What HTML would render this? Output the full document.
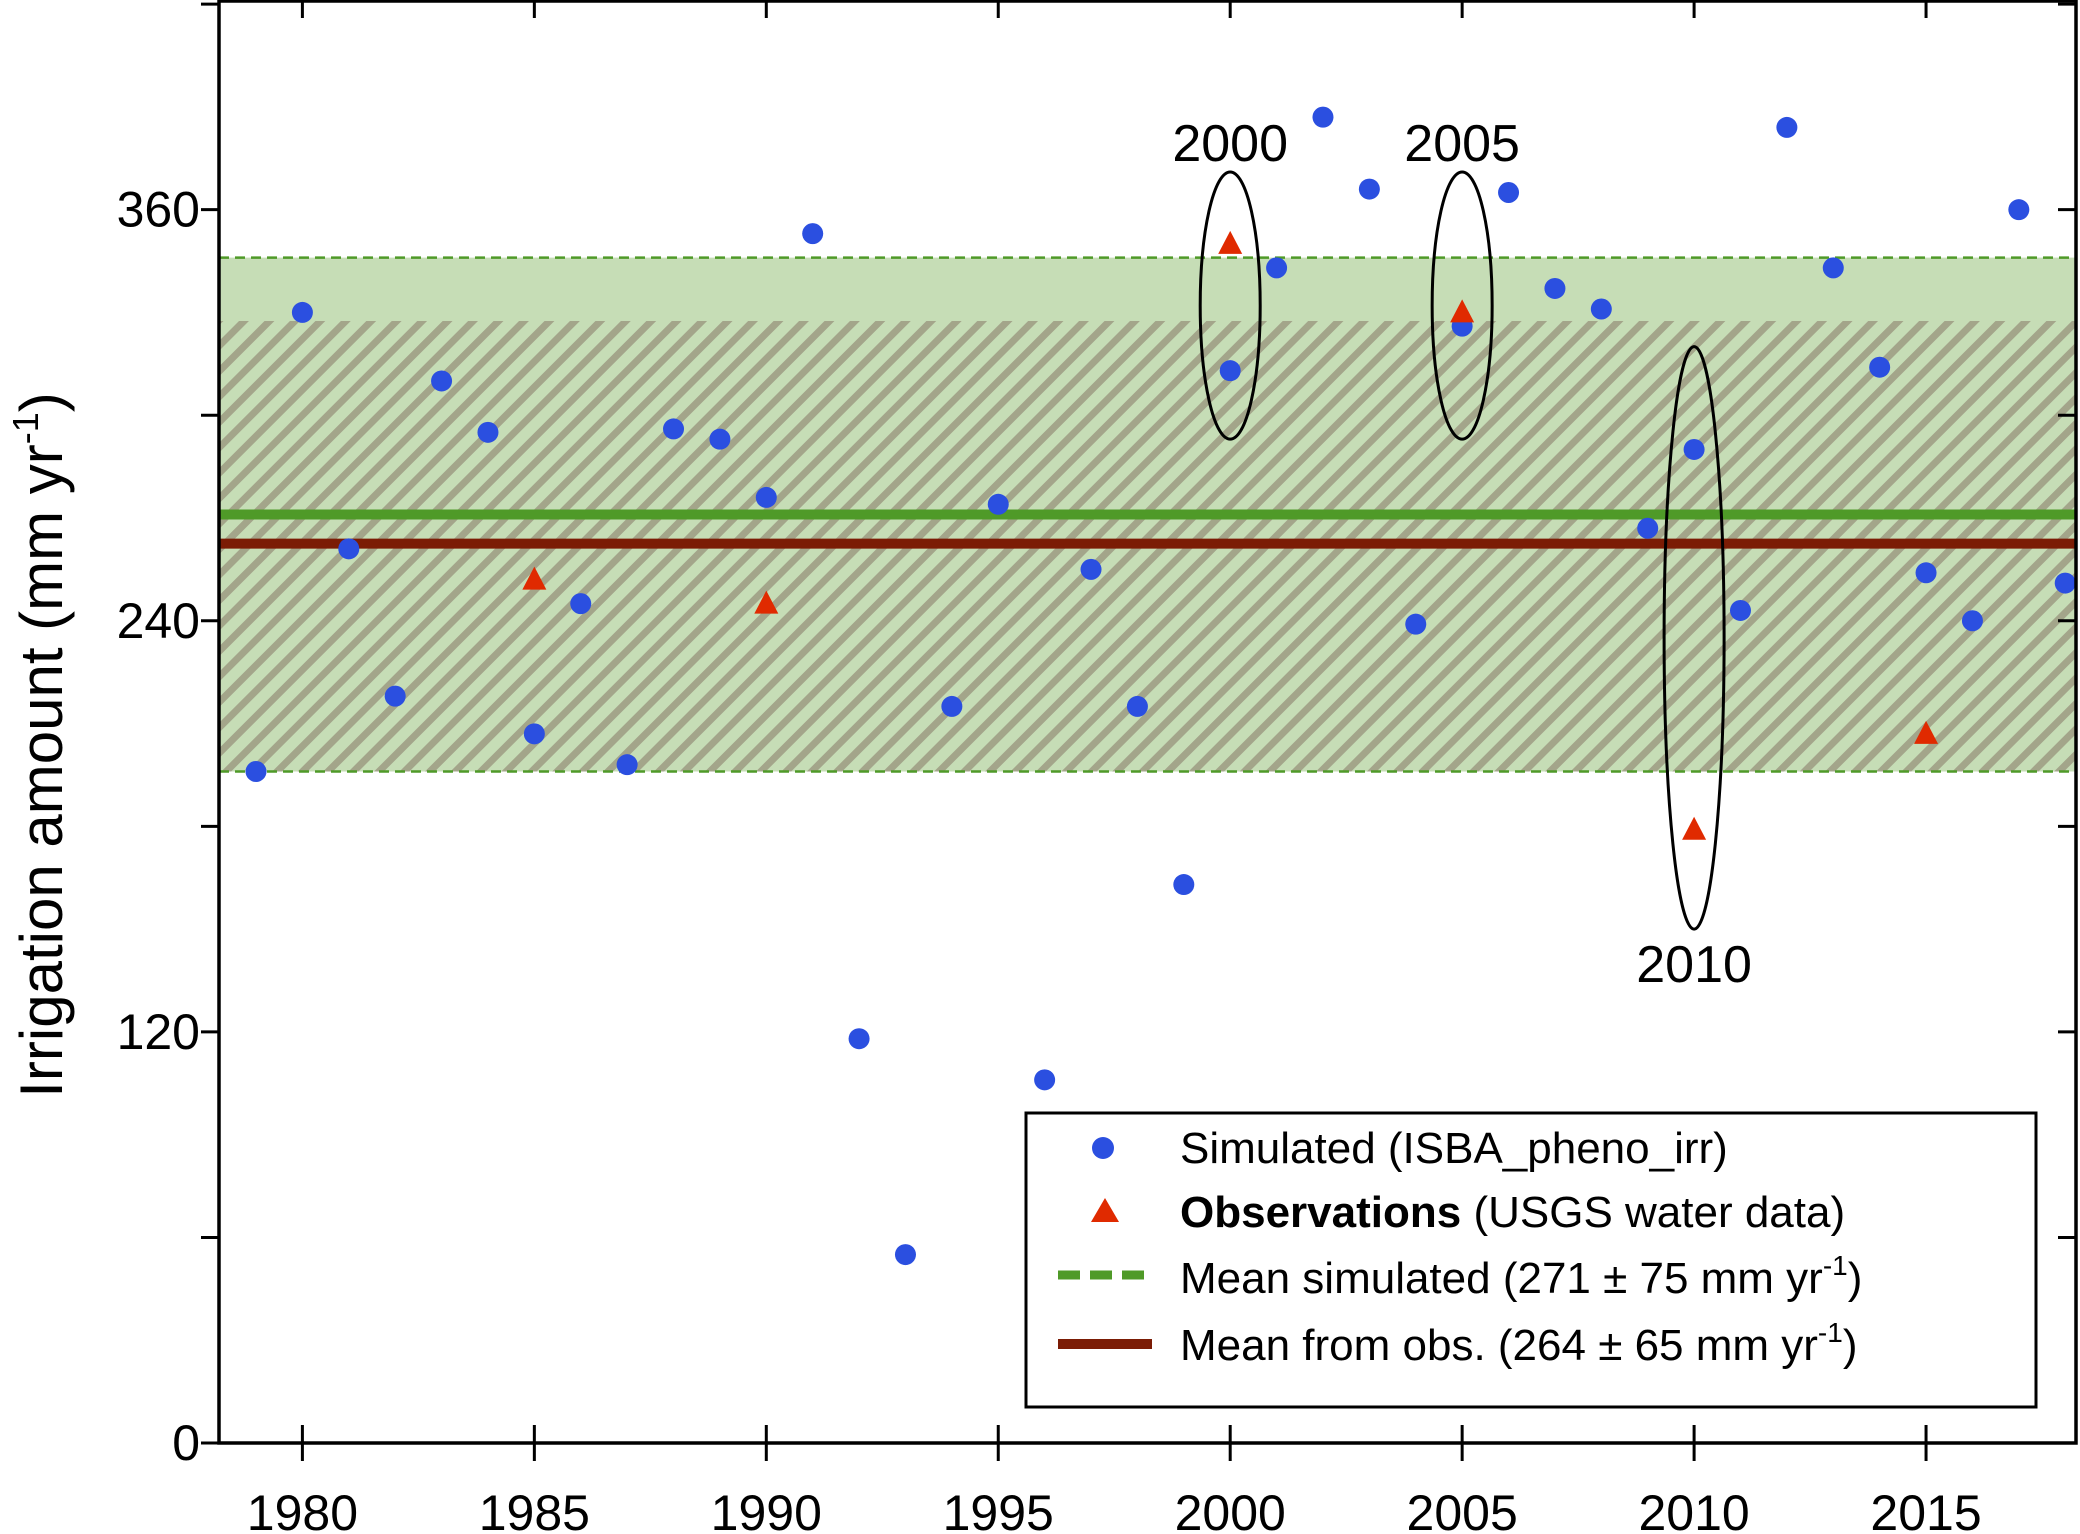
<!DOCTYPE html>
<html><head><meta charset="utf-8"><style>
html,body{margin:0;padding:0;background:#fff;}
svg{display:block;font-family:"Liberation Sans",sans-serif;}
</style></head><body>
<svg id="chart" width="2080" height="1534" viewBox="0 0 2080 1534" xmlns="http://www.w3.org/2000/svg">
<defs>
<pattern id="hatch" patternUnits="userSpaceOnUse" width="18" height="18" patternTransform="rotate(-45)">
<rect width="18" height="18" fill="#c6ddb6"/>
<rect width="18" height="7" fill="#a3a58a"/>
</pattern>
</defs>
<g id="plot"></g>
</svg>
<script>
const simYears=[1979,1980,1981,1982,1983,1984,1985,1986,1987,1988,1989,1990,1991,1992,1993,1994,1995,1996,1997,1998,1999,2000,2001,2002,2003,2004,2005,2006,2007,2008,2009,2010,2011,2012,2013,2014,2015,2016,2017,2018];
const simValues=[196,330,261,218,310,295,207,245,198,296,293,276,353,118,55,215,274,106,255,215,163,313,343,387,366,239,326,365,337,331,267,290,243,384,343,314,254,240,360,251];
const obsYears=[1985,1990,2000,2005,2010,2015];
const obsValues=[252,245,350,330,179,207];
const meanSim=271, sdSim=75, meanObs=262.5, sdObs=65;
const yTicks=[0,60,120,180,240,300,360,420];
const yLabels=[0,120,240,360];
const xTicks=[1980,1985,1990,1995,2000,2005,2010,2015];

const L=219,R=2076,T=0,B=1443;
const x=v=>302.4+(v-1980)*46.39;
const y=v=>B-v*3.426;
const NS='http://www.w3.org/2000/svg';
const g=document.getElementById('plot');
function mk(tag,attrs,parent){const e=document.createElementNS(NS,tag);for(const k in attrs)e.setAttribute(k,attrs[k]);(parent||g).appendChild(e);return e;}

let e=mk('rect',{x:L,y:y(meanSim+sdSim),width:R-L,height:y(meanSim-sdSim)-y(meanSim+sdSim),fill:'#c6ddb6'});


e=mk('rect',{x:L,y:y(meanObs+sdObs),width:R-L,height:y(meanSim-sdSim)-y(meanObs+sdObs),fill:'url(#hatch)'});


[meanSim+sdSim,meanSim-sdSim].forEach(v=>{
  const l=mk('line',{x1:L,x2:R,y1:y(v),y2:y(v),stroke:'#4f9a28','stroke-width':2.5,'stroke-dasharray':'10,6'});
  
  
});
e=mk('line',{x1:L,x2:R,y1:y(meanSim),y2:y(meanSim),stroke:'#4f9a28','stroke-width':10});


e=mk('line',{x1:L,x2:R,y1:y(meanObs),y2:y(meanObs),stroke:'#7b1c05','stroke-width':10});



simYears.forEach((yr,i)=>{
  const c=mk('circle',{cx:x(yr),cy:y(simValues[i]),r:10.5,fill:'#2b4fe0'});
  
  
});
obsYears.forEach((yr,i)=>{
  const cx=x(yr),cy=y(obsValues[i]);
  const p=mk('polygon',{points:`${cx},${cy-13} ${cx-12},${cy+10} ${cx+12},${cy+10}`,fill:'#e02a00'});
  
  
});

const ells=[[2000,332,39,'2000',143],[2005,332,39,'2005',143],[2010,235,85,'2010',964]];
ells.forEach(a=>{
  const el=mk('ellipse',{cx:x(a[0]),cy:y(a[1]),rx:30,ry:a[2]*3.426,fill:'none',stroke:'#000','stroke-width':3});
  
  
  const t=mk('text',{x:x(a[0]),y:a[4]+18,'font-size':52,'text-anchor':'middle',fill:'#000'});
  t.textContent=a[3];
  
  
});

e=mk('rect',{x:L,y:T+1,width:R-L,height:B-T-1,fill:'none',stroke:'#000','stroke-width':3.5});


yTicks.forEach(v=>{
  mk('line',{x1:L-18,x2:L,y1:y(v),y2:y(v),stroke:'#000','stroke-width':3});
  mk('line',{x1:R-18,x2:R,y1:y(v),y2:y(v),stroke:'#000','stroke-width':3});
});
yLabels.forEach(v=>{
  const t=mk('text',{x:200,y:y(v)+17,'font-size':50,'text-anchor':'end',fill:'#000'});
  t.textContent=v;
  
  
});
xTicks.forEach(v=>{
  mk('line',{x1:x(v),x2:x(v),y1:B-18,y2:B+18,stroke:'#000','stroke-width':3});
  mk('line',{x1:x(v),x2:x(v),y1:T,y2:T+18,stroke:'#000','stroke-width':3});
  const t=mk('text',{x:x(v),y:1530,'font-size':50,'text-anchor':'middle',fill:'#000'});
  t.textContent=v;
  
  
});
const yt=mk('text',{transform:'translate(62,745) rotate(-90)','font-size':60,'text-anchor':'middle',fill:'#000'});
yt.innerHTML='Irrigation amount (mm yr<tspan font-size="36" dy="-24">-1</tspan><tspan dy="24">)</tspan>';



const lg=mk('g',{});


mk('rect',{x:1026,y:1113,width:1010,height:294,fill:'#fff',stroke:'#000','stroke-width':3},lg);
mk('circle',{cx:1103,cy:1148,r:11,fill:'#2b4fe0'},lg);
mk('polygon',{points:'1105,1198 1091,1222 1119,1222',fill:'#e02a00'},lg);
mk('line',{x1:1058,x2:1152,y1:1275,y2:1275,stroke:'#4f9a28','stroke-width':9,'stroke-dasharray':'22,10'},lg);
mk('line',{x1:1058,x2:1152,y1:1344,y2:1344,stroke:'#7b1c05','stroke-width':10},lg);
const items=[[1163,'Simulated (ISBA_pheno_irr)','legend-simulated'],[1227,'<tspan font-weight="bold">Observations</tspan> (USGS water data)','legend-observations'],[1293,'Mean simulated (271 ± 75 mm yr<tspan font-size="28" dy="-18">-1</tspan><tspan dy="18">)</tspan>','legend-mean-simulated'],[1360,'Mean from obs. (264 ± 65 mm yr<tspan font-size="28" dy="-18">-1</tspan><tspan dy="18">)</tspan>','legend-mean-observed']];
items.forEach(it=>{
  const t=mk('text',{x:1180,y:it[0],'font-size':44,fill:'#000'},lg);
  t.innerHTML=it[1];
  
  
});
</script>
</body></html>
